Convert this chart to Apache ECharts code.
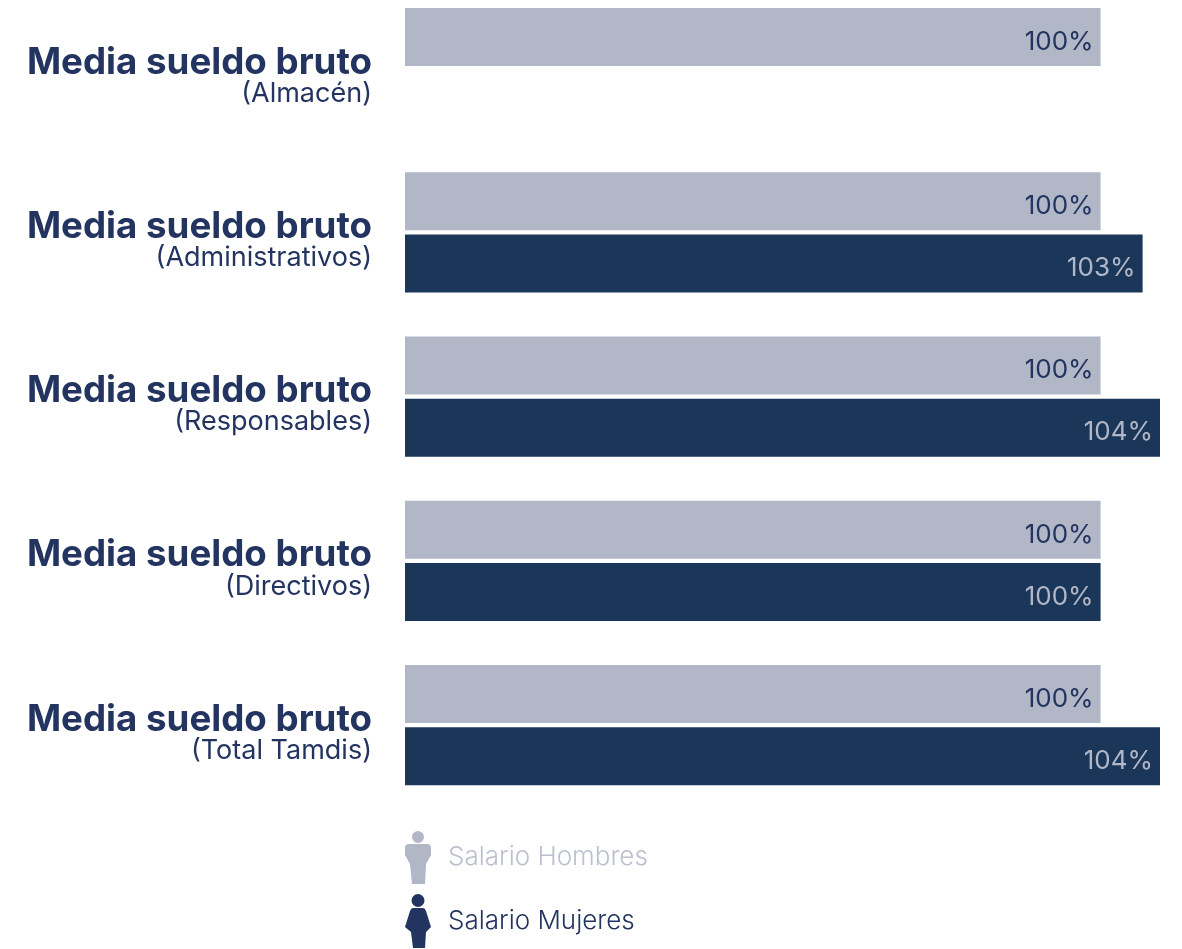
<!DOCTYPE html>
<html><head><meta charset="utf-8">
<style>html,body{margin:0;padding:0;background:#fff;width:1182px;height:949px;overflow:hidden}#c{width:1182px;height:1000px;margin-top:-14px}</style>
<script src="https://cdn.jsdelivr.net/npm/echarts@6/dist/echarts.min.js"></script>
</head><body><div id="c"></div>
<script>
const titleLabel = 'Media sueldo bruto';
const categories = ['(Almacén)', '(Administrativos)', '(Responsables)', '(Directivos)', '(Total Tamdis)'];
const salarioHombres = [100, 100, 100, 100, 100];
const salarioMujeres = [null, 102.9, 104.1, 100, 104.1];
const seriesNames = ['Salario Hombres', 'Salario Mujeres'];
const FONT = 'Inter';
const GREY = '#b2b7c7', NAVY = '#1a3759', INK = '#22345f';
const manIcon = 'path://M13 0A6 6 0 1 1 13 12A6 6 0 1 1 13 0ZM4 13L22 13Q26 13 26 17L26 24L21 33L20 53L7 53L5 33L0 24L0 17Q0 13 4 13Z';
const womanIcon = 'path://M13 0A6.5 6.5 0 1 1 13 13A6.5 6.5 0 1 1 13 0ZM8 14L18 14Q20 14 21 17L26 33L21 38L20 54L8 54L6 38L0 33L5 17Q6 14 8 14Z';
const chart = echarts.init(document.getElementById('c'), null, {renderer: 'canvas'});
const barLabel = color => ({
  show: true, position: 'insideRight', distance: 7, offset: [0, 5], color,
  fontFamily: FONT, fontSize: 26, fontWeight: 400,
  formatter: p => Math.round(p.value) + '%'
});
chart.setOption({
  animation: false,
  backgroundColor: '#fff',
  grid: {left: 405, right: 22, top: 0, height: 821.25, containLabel: false},
  xAxis: {type: 'value', min: 52, max: 104.1, show: false},
  yAxis: {
    type: 'category', inverse: true, data: categories,
    axisLine: {show: false}, axisTick: {show: false},
    axisLabel: {
      margin: 33, align: 'right', padding: [17, 0, 0, 0],
      formatter: v => `{t|${titleLabel}}\n{s|${v}}`,
      rich: {
        t: {fontFamily: FONT, fontSize: 36.7, fontWeight: 700, color: INK, align: 'right', lineHeight: 34},
        s: {fontFamily: FONT, fontSize: 27, fontWeight: 400, color: INK, align: 'right', lineHeight: 28}
      }
    }
  },
  legend: {
    left: 405, top: 845, padding: 0, orient: 'vertical', selectedMode: false,
    itemWidth: 26, itemHeight: 54, itemGap: 10,
    textStyle: {fontFamily: FONT, fontSize: 26, fontWeight: 300, padding: [0, 0, 0, 12]},
    data: [
      {name: seriesNames[0], icon: manIcon, itemStyle: {color: GREY}, textStyle: {color: '#bcc0cf'}},
      {name: seriesNames[1], icon: womanIcon, itemStyle: {color: INK}, textStyle: {color: INK}}
    ]
  },
  series: [
    {name: seriesNames[0], type: 'bar', data: salarioHombres, barWidth: 58, barGap: '6.9%',
     itemStyle: {color: GREY}, label: barLabel(INK)},
    {name: seriesNames[1], type: 'bar', data: salarioMujeres, barWidth: 58,
     itemStyle: {color: NAVY}, label: barLabel(GREY)}
  ]
});
</script></body></html>
